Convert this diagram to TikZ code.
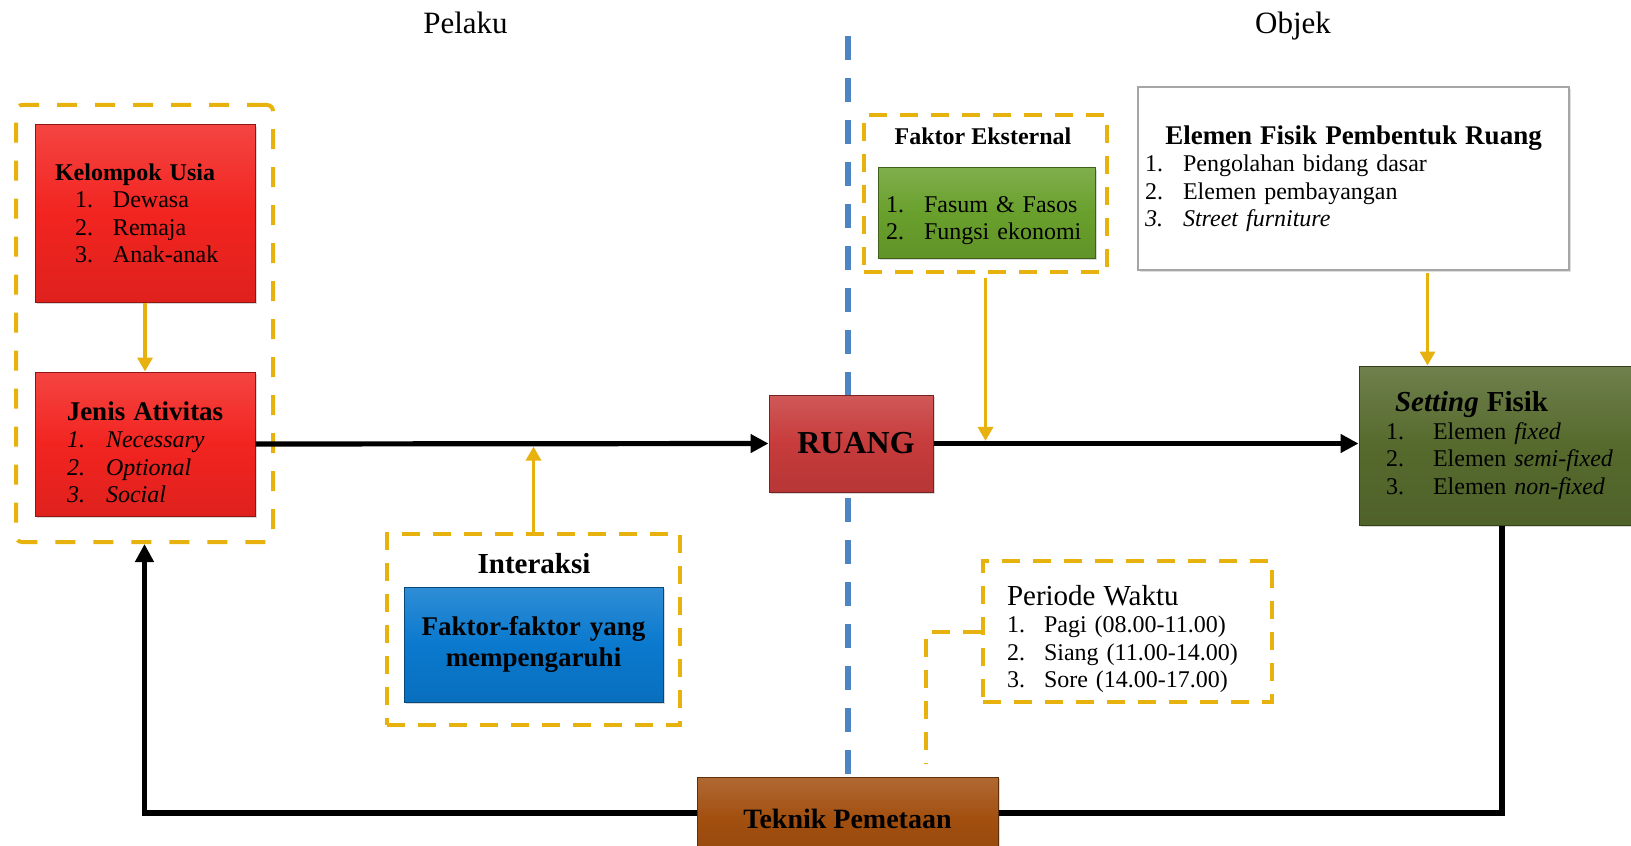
\documentclass[tikz,border=0pt]{standalone}
\usepackage{fontspec}
\setmainfont{Liberation Serif}
\usetikzlibrary{arrows.meta,shadows,backgrounds}

\definecolor{usiared}{HTML}{F22420}
\definecolor{ruangred}{HTML}{C73B3B}
\definecolor{fasumgreen}{HTML}{69A02C}
\definecolor{intblue}{HTML}{0A79CE}
\definecolor{settingolive}{HTML}{566A2D}
\definecolor{teknikbrown}{HTML}{A24F0F}
\definecolor{dashyellow}{HTML}{E8B20E}
\definecolor{dividerblue}{HTML}{4C84C4}

\newcommand{\lnum}[2][19pt]{\makebox[#1][l]{#2}}

\tikzset{
  txt/.style={inner xsep=0pt, inner ysep=0pt, align=left, font=\fontsize{12}{13.7}\selectfont},
  bevelbox/.style={txt, draw=#1!60!black, line width=0.5pt,
    top color=#1!85!white, bottom color=#1!92!black, middle color=#1,
    drop shadow={opacity=0.3, shadow xshift=1.2pt, shadow yshift=-1.2pt}},
  whitebox/.style={txt, draw=black!35, line width=0.6pt, fill=white,
    drop shadow={opacity=0.25, shadow xshift=1.2pt, shadow yshift=-1.2pt}},
  ydashline/.style={draw=dashyellow, line width=2pt, dash pattern=on 9pt off 6.5pt},
  ydash/.style={txt, ydashline},
  yarrow/.style={draw=dashyellow, line width=1.7pt, -{Triangle[length=7pt,width=7.5pt]}},
  barrow/.style={line width=2.6pt, -{Triangle[length=9pt,width=9pt]}},
  bline/.style={line width=2.6pt},
}

\begin{document}
\begin{tikzpicture}[x=0.5pt, y=-0.5pt]
\useasboundingbox (0,0) rectangle (1631,845);

% judul kolom
\node[font=\fontsize{15.5}{18}\selectfont, anchor=base] (pelaku) at (465.5,34) {Pelaku};
\node[font=\fontsize{15.5}{18}\selectfont, anchor=base] (objek) at (1293,34) {Objek};

% pelaku
\node[ydash, dash pattern=on 10pt off 9pt, rounded corners=3pt, minimum width=128.5pt, minimum height=218.5pt] (pelakubox) at (144.5,323.5) {};
\node[bevelbox=usiared, text width=110pt, minimum height=88.5pt] (usia) at (145,213.5)
  {\hspace*{10pt}\textbf{Kelompok Usia}\\
   \hspace*{20pt}\lnum{1.}Dewasa\\
   \hspace*{20pt}\lnum{2.}Remaja\\
   \hspace*{20pt}\lnum{3.}Anak-anak};
\node[bevelbox=usiared, text width=110pt, minimum height=72pt] (jenis) at (145,444)
  {\rule{0pt}{17.5pt}\makebox[110pt]{\fontsize{13.5}{15}\selectfont\bfseries Jenis Ativitas}\\
   \itshape\hspace*{16pt}\lnum[19.5pt]{1.}Necessary\\
   \hspace*{16pt}\lnum[19.5pt]{2.}Optional\\
   \hspace*{16pt}\lnum[19.5pt]{3.}Social};

% interaksi
\node[ydash, minimum width=146.5pt, minimum height=95.5pt] (intbox) at (533.5,629.5) {};
\node[font=\fontsize{14.5}{17}\selectfont\bfseries, anchor=base] (intlabel) at (534,573) {Interaksi};
\node[bevelbox=intblue, text width=129.5pt, minimum height=57.5pt, align=center,
  font=\fontsize{13.5}{15.5}\selectfont\bfseries] (intfaktor) at (533.5,644.5)
  {Faktor-faktor yang\\mempengaruhi};

% ruang
\node[bevelbox=ruangred, minimum width=82pt, minimum height=48.5pt,
  font=\fontsize{16}{19}\selectfont\bfseries] (ruang) at (851,443.5) {\hspace*{5pt}RUANG};

% faktor eksternal
\node[ydash, minimum width=121.5pt, minimum height=78.5pt] (eksbox) at (985.5,193.5) {};
\node[font=\fontsize{12}{14}\selectfont\bfseries, anchor=base] (ekslabel) at (983,145) {Faktor Eksternal};
\node[bevelbox=fasumgreen, text width=108.5pt, minimum height=45pt] (fasum) at (986.5,213)
  {\rule{0pt}{15.7pt}\hspace*{4pt}\lnum{1.}Fasum \& Fasos\\
   \hspace*{4pt}\lnum{2.}Fungsi ekonomi};

% objek
\node[whitebox, text width=215.5pt, minimum height=91.5pt] (elemen) at (1353.5,178.5)
  {\makebox[215.5pt]{\fontsize{13.5}{15}\selectfont\bfseries Elemen Fisik Pembentuk Ruang}\\
   \hspace*{3.5pt}\lnum{1.}Pengolahan bidang dasar\\
   \hspace*{3.5pt}\lnum{2.}Elemen pembayangan\\
   \hspace*{3.5pt}\itshape\lnum{3.}Street furniture};
\node[bevelbox=settingolive, text width=143pt, minimum height=79.5pt] (setting) at (1502,445.5)
  {\hspace*{18pt}{\fontsize{14.5}{16}\selectfont\bfseries\textit{Setting} Fisik}\\
   \hspace*{13.5pt}\lnum[23.5pt]{1.}Elemen \textit{fixed}\\
   \hspace*{13.5pt}\lnum[23.5pt]{2.}Elemen \textit{semi-fixed}\\
   \hspace*{13.5pt}\lnum[23.5pt]{3.}Elemen \textit{non-fixed}};

% periode waktu
\node[ydash, text width=144.5pt, minimum height=70.5pt] (periode) at (1127.5,631.5)
  {\rule{0pt}{17.5pt}\hspace*{12pt}{\fontsize{14.5}{16}\selectfont Periode Waktu}\\
   \hspace*{12pt}\lnum[18.5pt]{1.}Pagi (08.00-11.00)\\
   \hspace*{12pt}\lnum[18.5pt]{2.}Siang (11.00-14.00)\\
   \hspace*{12pt}\lnum[18.5pt]{3.}Sore (14.00-17.00)};

% teknik
\node[bevelbox=teknikbrown, minimum width=150.5pt, minimum height=42pt,
  font=\fontsize{14}{16}\selectfont\bfseries] (teknik) at (847.5,819) {Teknik Pemetaan};

% garis pemisah
\begin{scope}[on background layer]
  \fill[white] (0,0) rectangle (1631,845);
  \coordinate (divtop) at (848,36);
  \draw[dividerblue, line width=2.8pt, dash pattern=on 12pt off 9pt] (divtop) -- (divtop |- teknik.north);
\end{scope}

% panah
\draw[yarrow] (usia.south) -- (jenis.north);
\draw[barrow] (jenis.east) -- (ruang.west);
\draw[yarrow, shorten >=1.3pt] (intbox.north) -- (intbox.north |- jenis.east);
\draw[yarrow, shorten <=2pt, shorten >=1.3pt] (eksbox.south) -- (eksbox.south |- ruang.east);
\draw[barrow] (ruang.east) -- (ruang.east -| setting.west);
\coordinate (eltop) at ([xshift=37pt]elemen.south);
\draw[yarrow, shorten <=1pt] (eltop) -- (eltop |- setting.north);
\draw[bline] (setting.south) |- ([yshift=3pt]teknik.east);
\draw[barrow] ([yshift=3pt]teknik.west) -| (pelakubox.south);
\coordinate (perend) at (926,763);
\draw[ydashline] (periode.west) -| (perend);
\end{tikzpicture}
\end{document}
